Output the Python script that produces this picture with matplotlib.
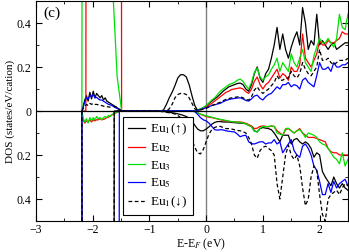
import numpy as np
import matplotlib
matplotlib.use("Agg")
import matplotlib.pyplot as plt
from matplotlib.ticker import MultipleLocator, FuncFormatter

plt.rcParams['font.family'] = ['Liberation Serif', 'DejaVu Serif']
plt.rcParams['mathtext.fontset'] = 'stix'

# Energy grid (eV) for the conduction-band side, -0.9 .. 2.5
e_grid = [-0.90, -0.85, -0.80, -0.75, -0.70, -0.65, -0.60, -0.55, -0.50, -0.45,
          -0.40, -0.35, -0.30, -0.25, -0.20, -0.15, -0.10, -0.05, 0.00, 0.05,
          0.10, 0.15, 0.20, 0.25, 0.30, 0.35, 0.40, 0.45, 0.50, 0.55,
          0.60, 0.65, 0.70, 0.75, 0.80, 0.85, 0.90, 0.95, 1.00, 1.05,
          1.10, 1.15, 1.20, 1.25, 1.30, 1.35, 1.40, 1.45, 1.50, 1.55,
          1.60, 1.65, 1.70, 1.75, 1.80, 1.85, 1.90, 1.95, 2.00, 2.05,
          2.10, 2.15, 2.20, 2.25, 2.30, 2.35, 2.40, 2.45, 2.50]

# spin up (drawn above zero)
eu1_up = [0, 0, 0, 0.005, 0.03, 0.06, 0.085, 0.115, 0.15, 0.165,
          0.165, 0.155, 0.12, 0.07, 0.025, 0.002, 0.008, 0.015, 0.022, 0.035,
          0.045, 0.055, 0.065, 0.077, 0.09, 0.1, 0.11, 0.115, 0.12, 0.125,
          0.127, 0.12, 0.1, 0.09, 0.12, 0.17, 0.2, 0.15, 0.13, 0.17,
          0.19, 0.24, 0.3, 0.38, 0.28, 0.35, 0.28, 0.24, 0.29, 0.33,
          0.36, 0.3, 0.47, 0.4, 0.28, 0.32, 0.3, 0.44, 0.3, 0.32,
          0.3, 0.28, 0.3, 0.31, 0.28, 0.29, 0.3, 0.31, 0.31]
eu2_up = [0, 0, 0, 0, 0, 0, 0, 0, 0, 0,
          0, 0, 0, 0, 0, 0.005, 0.008, 0.012, 0.018, 0.027,
          0.035, 0.045, 0.055, 0.065, 0.075, 0.085, 0.09, 0.098, 0.1, 0.103,
          0.105, 0.1, 0.088, 0.08, 0.1, 0.135, 0.155, 0.12, 0.1, 0.12,
          0.13, 0.15, 0.17, 0.19, 0.15, 0.17, 0.16, 0.14, 0.2, 0.18,
          0.18, 0.21, 0.35, 0.24, 0.22, 0.2, 0.23, 0.26, 0.32, 0.3,
          0.3, 0.32, 0.31, 0.31, 0.32, 0.33, 0.36, 0.35, 0.35]
eu3_up = [0, 0, 0, 0, 0, 0, 0, 0, 0, 0,
          0, 0, 0, 0, 0, 0.006, 0.01, 0.016, 0.025, 0.037,
          0.05, 0.06, 0.075, 0.09, 0.1, 0.11, 0.12, 0.125, 0.13, 0.14,
          0.145, 0.135, 0.115, 0.1, 0.13, 0.175, 0.195, 0.155, 0.14, 0.155,
          0.165, 0.19, 0.21, 0.24, 0.18, 0.22, 0.2, 0.18, 0.26, 0.22,
          0.2, 0.24, 0.28, 0.22, 0.2, 0.18, 0.25, 0.29, 0.33, 0.31,
          0.31, 0.33, 0.31, 0.29, 0.33, 0.44, 0.38, 0.37, 0.44]
eu5_up = [0, 0, 0, 0, 0, 0, 0, 0, 0, 0,
          0, 0, 0, 0, 0, 0.004, 0.007, 0.01, 0.015, 0.02,
          0.025, 0.028, 0.032, 0.035, 0.042, 0.048, 0.052, 0.055, 0.057, 0.059,
          0.06, 0.055, 0.048, 0.045, 0.055, 0.068, 0.072, 0.058, 0.05, 0.065,
          0.075, 0.08, 0.095, 0.11, 0.1, 0.12, 0.12, 0.13, 0.11, 0.12,
          0.115, 0.1, 0.14, 0.15, 0.13, 0.12, 0.11, 0.16, 0.22, 0.19,
          0.19, 0.2, 0.18, 0.22, 0.2, 0.2, 0.21, 0.21, 0.22]
eu1d_up = [0, 0, 0, 0, 0, 0.01, 0.03, 0.06, 0.075, 0.08,
           0.08, 0.075, 0.06, 0.035, 0.01, 0.003, 0.005, 0.008, 0.012, 0.018,
           0.025, 0.03, 0.035, 0.04, 0.047, 0.053, 0.057, 0.06, 0.062, 0.064,
           0.065, 0.06, 0.052, 0.05, 0.065, 0.095, 0.11, 0.09, 0.08, 0.09,
           0.1, 0.115, 0.13, 0.16, 0.14, 0.14, 0.15, 0.15, 0.18, 0.16,
           0.15, 0.17, 0.22, 0.19, 0.17, 0.16, 0.18, 0.2, 0.28, 0.23,
           0.23, 0.24, 0.22, 0.21, 0.22, 0.23, 0.23, 0.23, 0.24]

# spin down (magnitudes, drawn below zero)
eu1_dn = [0, 0, 0, 0.002, 0.004, 0.006, 0.008, 0.01, 0.013, 0.016,
          0.02, 0.025, 0.032, 0.045, 0.065, 0.082, 0.09, 0.09, 0.082, 0.072,
          0.06, 0.052, 0.048, 0.048, 0.05, 0.05, 0.05, 0.052, 0.053, 0.054,
          0.055, 0.056, 0.058, 0.065, 0.07, 0.09, 0.095, 0.08, 0.075, 0.078,
          0.08, 0.085, 0.1, 0.12, 0.14, 0.11, 0.11, 0.11, 0.15, 0.13,
          0.125, 0.14, 0.15, 0.14, 0.15, 0.17, 0.21, 0.19, 0.2, 0.275,
          0.3, 0.32, 0.34, 0.3, 0.33, 0.35, 0.33, 0.35, 0.36]
eu2_dn = [0, 0, 0, 0, 0, 0, 0, 0, 0, 0,
          0, 0, 0, 0, 0.002, 0.008, 0.015, 0.02, 0.025, 0.028,
          0.03, 0.033, 0.036, 0.04, 0.042, 0.045, 0.047, 0.049, 0.05, 0.05,
          0.05, 0.052, 0.056, 0.062, 0.068, 0.08, 0.078, 0.07, 0.068, 0.07,
          0.072, 0.068, 0.07, 0.09, 0.1, 0.11, 0.085, 0.08, 0.09, 0.1,
          0.09, 0.08, 0.1, 0.11, 0.12, 0.12, 0.12, 0.125, 0.13, 0.135,
          0.14, 0.17, 0.185, 0.19, 0.19, 0.2, 0.2, 0.2, 0.2]
eu3_dn = [0, 0, 0, 0, 0, 0, 0, 0, 0, 0,
          0, 0, 0, 0, 0.002, 0.008, 0.014, 0.018, 0.022, 0.025,
          0.028, 0.032, 0.035, 0.038, 0.04, 0.043, 0.046, 0.048, 0.05, 0.05,
          0.052, 0.055, 0.058, 0.065, 0.072, 0.092, 0.095, 0.078, 0.07, 0.072,
          0.07, 0.068, 0.07, 0.1, 0.105, 0.11, 0.08, 0.078, 0.09, 0.1,
          0.09, 0.085, 0.1, 0.12, 0.1, 0.105, 0.11, 0.12, 0.14, 0.15,
          0.155, 0.17, 0.19, 0.21, 0.22, 0.24, 0.19, 0.25, 0.22]
eu5_dn = [0, 0, 0, 0, 0, 0, 0, 0, 0, 0,
          0, 0, 0, 0, 0.003, 0.015, 0.03, 0.04, 0.045, 0.055,
          0.07, 0.085, 0.087, 0.085, 0.086, 0.09, 0.092, 0.094, 0.095, 0.105,
          0.117, 0.112, 0.11, 0.14, 0.148, 0.15, 0.145, 0.14, 0.14, 0.15,
          0.145, 0.145, 0.13, 0.15, 0.14, 0.19, 0.17, 0.15, 0.13, 0.18,
          0.2, 0.21, 0.16, 0.15, 0.17, 0.2, 0.25, 0.27, 0.32, 0.38,
          0.38, 0.33, 0.37, 0.32, 0.35, 0.33, 0.32, 0.31, 0.34]
eu1d_dn = [0, 0, 0.002, 0.004, 0.006, 0.008, 0.01, 0.014, 0.02, 0.03,
           0.045, 0.065, 0.095, 0.13, 0.165, 0.19, 0.195, 0.175, 0.14, 0.105,
           0.085, 0.075, 0.07, 0.07, 0.075, 0.08, 0.08, 0.082, 0.085, 0.088,
           0.09, 0.094, 0.1, 0.12, 0.15, 0.2, 0.215, 0.18, 0.165, 0.16,
           0.17, 0.18, 0.2, 0.33, 0.4, 0.3, 0.2, 0.155, 0.2, 0.22,
           0.2, 0.25, 0.35, 0.43, 0.4, 0.3, 0.25, 0.27, 0.38, 0.47,
           0.5, 0.4, 0.38, 0.37, 0.36, 0.38, 0.35, 0.33, 0.34]

# Eu 4f region (-2.2 .. -1.5): small noisy parts
e_4f = [-2.19, -2.17, -2.14, -2.11, -2.08, -2.05, -2.02, -1.99, -1.96, -1.93,
        -1.90, -1.87, -1.84, -1.81, -1.78, -1.75, -1.72, -1.69, -1.66, -1.63,
        -1.60, -1.57, -1.54, -1.51, -1.48]
eu1_up_4f = [0, 0.02, 0.05, 0.07, 0.045, 0.085, 0.055, 0.09, 0.06, 0.08,
             0.07, 0.06, 0.07, 0.05, 0.06, 0.045, 0.04, 0.035, 0.03, 0.025,
             0.02, 0.015, 0.01, 0.005, 0]
eu5_up_4f = [0, 0.015, 0.04, 0.06, 0.055, 0.07, 0.065, 0.075, 0.06, 0.062,
             0.055, 0.05, 0.05, 0.045, 0.04, 0.035, 0.03, 0.028, 0.025, 0.02,
             0.015, 0.012, 0.008, 0.004, 0]
eu1d_up_4f = [0, 0.01, 0.02, 0.03, 0.025, 0.035, 0.03, 0.035, 0.03, 0.03,
              0.028, 0.025, 0.025, 0.022, 0.02, 0.02, 0.018, 0.018, 0.02, 0.022,
              0.02, 0.015, 0.008, 0.003, 0]
eu2_dn_4f = [0, 0.04, 0.055, 0.045, 0.05, 0.04, 0.05, 0.04, 0.045, 0.04,
             0.04, 0.035, 0.04, 0.038, 0.035, 0.03, 0.028, 0.022, 0.018, 0.014,
             0.01, 0.006, 0.003, 0, 0]
eu3_dn_4f = [0, 0.03, 0.05, 0.035, 0.055, 0.03, 0.045, 0.03, 0.04, 0.025,
             0.035, 0.03, 0.04, 0.03, 0.025, 0.03, 0.02, 0.025, 0.015, 0.012,
             0.008, 0.005, 0.002, 0, 0]

# Eu 4f region: the big peaks that run off the panel
eu2_up_pk_e = [-2.19, -2.12, -2.11, -1.50, -1.49]
eu2_up_pk = [0, 0, 3.0, 3.0, 0]
eu3_up_pk_e = [-2.19, -2.18, -2.165, -2.155, -1.645, -1.60, -1.57, -1.53, -1.49]
eu3_up_pk = [0, 3.0, 0.7, 3.0, 0.55, 0.32, 0.16, 0.08, 0]
eu1_dn_pk_e = [-2.19, -2.18, -1.63, -1.62]
eu1_dn_pk = [0, 3.0, 3.0, 0]
eu5_dn_pk_e = [-2.19, -2.18, -1.54, -1.53]
eu5_dn_pk = [0, 3.0, 3.0, 0]
eu1d_dn_pk_e = [-2.19, -2.18, -1.63, -1.62]
eu1d_dn_pk = [0, 3.0, 3.0, 0]

labels = ['Eu$_1$(\u2191)', 'Eu$_2$', 'Eu$_3$', 'Eu$_5$', 'Eu$_1$(\u2193)']
colors = ['black', 'red', '#00e000', 'blue', 'black']
styles = ['-', '-', '-', '-', (0, (3, 2))]

series = [
    (e_4f, eu1_up_4f, eu1_dn_pk_e, eu1_dn_pk, eu1_up, eu1_dn),
    (eu2_up_pk_e, eu2_up_pk, e_4f, eu2_dn_4f, eu2_up, eu2_dn),
    (eu3_up_pk_e, eu3_up_pk, e_4f, eu3_dn_4f, eu3_up, eu3_dn),
    (e_4f, eu5_up_4f, eu5_dn_pk_e, eu5_dn_pk, eu5_up, eu5_dn),
    (e_4f, eu1d_up_4f, eu1d_dn_pk_e, eu1d_dn_pk, eu1d_up, eu1d_dn),
]

fig = plt.figure(figsize=(3.49, 2.52), dpi=100)
ax = fig.add_axes([0.103, 0.123, 0.894, 0.873])

for (eu_e, eu_v, ed_e, ed_v, up, dn), c, ls, lab in zip(series, colors, styles, labels):
    x_up = list(eu_e) + e_grid
    y_up = list(eu_v) + up
    x_dn = list(ed_e) + e_grid
    y_dn = [-v for v in list(ed_v) + dn]
    ax.plot(x_up, y_up, color=c, ls=ls, lw=0.9, label=lab)
    ax.plot(x_dn, y_dn, color=c, ls=ls, lw=0.9)

ax.axhline(0, color='black', lw=0.9, zorder=5)
ax.axvline(0, color='#808080', lw=1.0, zorder=0)

ax.set_xlim(-3, 2.5)
ax.set_ylim(-0.5, 0.5)
ax.xaxis.set_major_locator(MultipleLocator(1))
ax.xaxis.set_minor_locator(MultipleLocator(0.5))
ax.yaxis.set_major_locator(MultipleLocator(0.2))
ax.yaxis.set_minor_locator(MultipleLocator(0.1))
ax.yaxis.set_major_formatter(FuncFormatter(lambda v, p: '%g' % abs(round(v, 2))))
ax.tick_params(which='both', direction='in', top=True, right=True, labelsize=8.5)
ax.tick_params(axis='x', pad=2)
ax.tick_params(which='major', length=4)
ax.tick_params(which='minor', length=2)

ax.set_xlabel('E-E$_F$ (eV)', fontsize=8.5, labelpad=0)
ax.xaxis.set_label_coords(0.53, -0.07)
ax.set_ylabel('DOS (states/eV/cation)', fontsize=8, labelpad=1)
ax.text(0.025, 0.975, '(c)', transform=ax.transAxes, fontsize=11, va='top', ha='left')

leg = ax.legend(loc='upper left', bbox_to_anchor=(0.278, 0.475), fontsize=9.5,
                frameon=True, fancybox=False, edgecolor='black', framealpha=1,
                handlelength=1.3, handletextpad=0.4, labelspacing=0.3,
                borderpad=0.4, borderaxespad=0)
leg.get_frame().set_linewidth(0.8)

fig.savefig('out.png', dpi=100)
